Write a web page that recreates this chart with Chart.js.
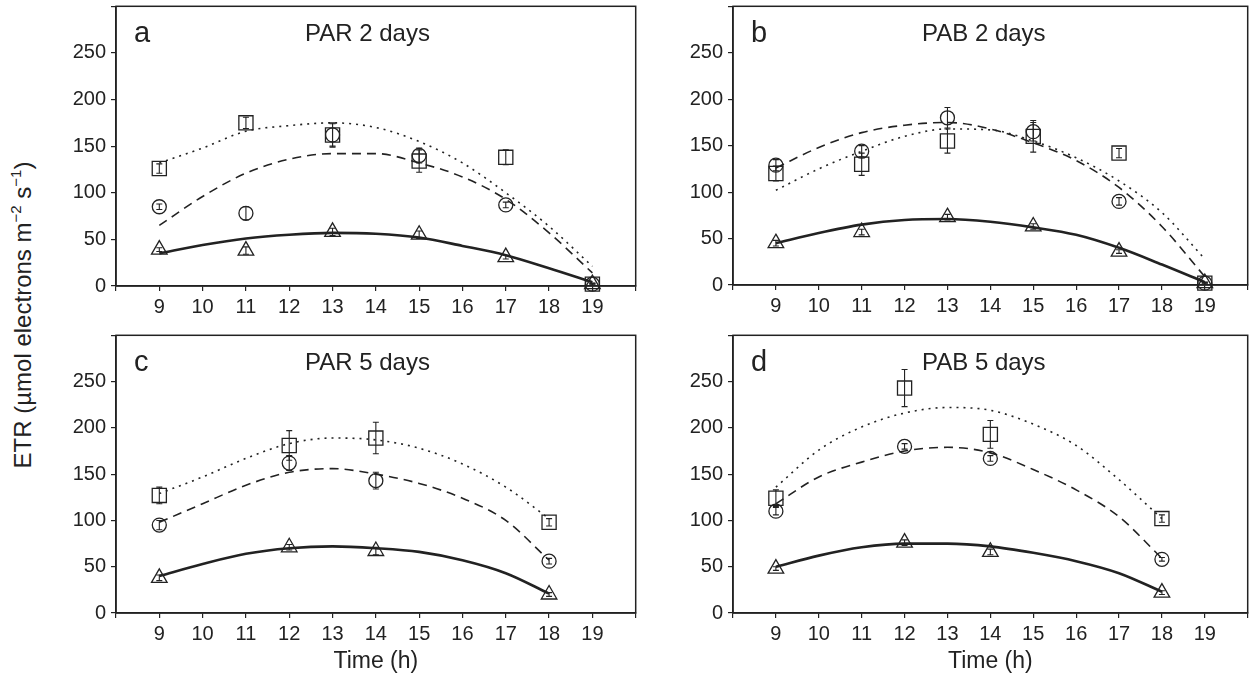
<!DOCTYPE html>
<html><head><meta charset="utf-8">
<script src="https://cdn.jsdelivr.net/npm/chart.js@4.4.1/dist/chart.umd.min.js"></script>
<style>
html,body{margin:0;padding:0;background:#fff;width:1253px;height:680px;overflow:hidden;position:relative;}
.p{position:absolute;}
#ylab{position:absolute;left:23px;top:315px;transform:translate(-50%,-50%) rotate(-90deg);font-family:"Liberation Sans",Arial,sans-serif;font-size:24px;color:#222;white-space:nowrap;}
#ylab sup{font-size:15px;vertical-align:10px;line-height:0;}
</style></head><body>
<div id="ylab">ETR (µmol electrons m<sup>−2</sup> s<sup>−1</sup>)</div>
<div class="p" style="left:50px;top:-5px;"><canvas id="ca" width="597" height="335"></canvas></div>
<div class="p" style="left:667px;top:-5px;"><canvas id="cb" width="592" height="335"></canvas></div>
<div class="p" style="left:50px;top:324px;"><canvas id="cc" width="597" height="356"></canvas></div>
<div class="p" style="left:667px;top:324px;"><canvas id="cd" width="592" height="356"></canvas></div>
<script>
// ---------- data ----------
const xTicks = [9,10,11,12,13,14,15,16,17,18,19];
const yTicks = [0,50,100,150,200,250];

// Panel a: PAR 2 days
const hoursA = [9,11,13,15,17,19];
const aSquare = [126,175,162,134,138,2];
const aSquareErr = [5,6,13,12,8,1];
const aCircle = [85,78,162,140,87,2];
const aCircleErr = [3,7,12,8,3,1];
const aTriangle = [39,38,58,55,31,2];
const aTriangleErr = [2,4,4,4,2,1];
const fitHoursA = [9,10,11,12,13,14,15,16,17,18,19];
const aFitSquare = [132,148,166,172,175,170,155,132,100,64,21];
const aFitCircle = [65,96,121,136,142,142,132,117,93,57,14];
const aFitTriangle = [35,44,51,55,57,56,52,43,33,19,4];

// Panel b: PAB 2 days
const hoursB = [9,11,13,15,17,19];
const bSquare = [120,130,155,160,142,2];
const bSquareErr = [8,12,13,17,5,1];
const bCircle = [129,144,180,165,90,2];
const bCircleErr = [6,6,11,10,4,1];
const bTriangle = [45,57,73,63,36,2];
const bTriangleErr = [3,3,3,3,2,1];
const fitHoursB = [9,10,11,12,13,14,15,16,17,18,19];
const bFitSquare = [102,125,144,160,168,167,155,137,112,78,28];
const bFitCircle = [126,148,164,172,175,168,153,134,105,63,9];
const bFitTriangle = [45,56,65,70,71,68,62,54,40,22,3];

// Panel c: PAR 5 days
const hoursC = [9,12,14,18];
const cSquare = [127,181,189,98];
const cSquareErr = [9,16,17,4];
const cCircle = [95,162,143,56];
const cCircleErr = [5,8,9,3];
const cTriangle = [38,71,67,20];
const cTriangleErr = [3,3,4,2];
const fitHoursC = [9,10,11,12,13,14,15,16,17,18];
const cFitSquare = [129,147,167,183,189,187,178,161,136,102];
const cFitCircle = [98,118,138,152,156,150,140,124,100,57];
const cFitTriangle = [40,53,64,70,72,70,66,57,43,21];

// Panel d: PAB 5 days
const hoursD = [9,12,14,18];
const dSquare = [124,243,193,102];
const dSquareErr = [9,20,15,4];
const dCircle = [110,180,167,58];
const dCircleErr = [4,3,3,2];
const dTriangle = [48,76,66,22];
const dTriangleErr = [2,3,3,2];
const fitHoursD = [9,10,11,12,13,14,15,16,17,18];
const dFitSquare = [136,176,201,216,222,219,204,181,144,102];
const dFitCircle = [118,147,163,175,179,173,155,133,104,59];
const dFitTriangle = [50,62,71,75,75,72,65,56,43,23];

// ---------- rendering ----------
const FONT = '"Liberation Sans", Arial, Helvetica, sans-serif';
const INK = '#222';

const deco = {
  id: 'deco',
  afterDatasetsDraw(chart, args, opts) {
    const ctx = chart.ctx, ys = chart.scales.y;
    ctx.save();
    ctx.strokeStyle = INK; ctx.lineWidth = 1.1;
    chart.data.datasets.forEach((ds, i) => {
      if (!ds.errors) return;
      const meta = chart.getDatasetMeta(i);
      meta.data.forEach((pt, j) => {
        const v = ds.data[j].y, e = ds.errors[j];
        const y1 = ys.getPixelForValue(v + e), y2 = ys.getPixelForValue(v - e);
        const x = pt.x;
        ctx.beginPath();
        ctx.moveTo(x, y1); ctx.lineTo(x, y2);
        ctx.moveTo(x - 3, y1); ctx.lineTo(x + 3, y1);
        ctx.moveTo(x - 3, y2); ctx.lineTo(x + 3, y2);
        ctx.stroke();
      });
    });
    ctx.restore();
  },
  afterDraw(chart, args, opts) {
    const ctx = chart.ctx, a = chart.chartArea;
    ctx.save();
    ctx.strokeStyle = INK; ctx.lineWidth = 1.5;
    ctx.strokeRect(a.left, a.top, a.right - a.left, a.bottom - a.top);
    ctx.fillStyle = INK;
    ctx.textBaseline = 'alphabetic';
    ctx.textAlign = 'left';
    ctx.font = '29px ' + FONT;
    ctx.fillText(opts.letter, a.left + 18, a.top + 36);
    ctx.font = '24px ' + FONT;
    ctx.fillText(opts.title, a.left + 189, a.top + 35);
    ctx.restore();
  }
};

function pts(xs, ys) { return xs.map((x, i) => ({x: x, y: ys[i]})); }

function markerSet(xs, ys, errs, style, r) {
  return {type: 'scatter', data: pts(xs, ys), errors: errs, showLine: false,
    pointStyle: style, pointRadius: r, pointHoverRadius: r, pointBorderWidth: 1.3,
    pointBorderColor: INK, pointBackgroundColor: 'rgba(255,255,255,0)', clip: false, order: 1};
}
function fitSet(xs, ys, dash, width) {
  return {type: 'line', data: pts(xs, ys), borderColor: INK, borderWidth: width, borderDash: dash,
    pointRadius: 0, fill: false, cubicInterpolationMode: 'monotone', clip: false, order: 2};
}

function makeChart(id, cfg) {
  const showTitle = cfg.xTitle;
  new Chart(document.getElementById(id), {
    data: {datasets: [
      fitSet(cfg.fx, cfg.fsq, [2, 5], 1.6),
      fitSet(cfg.fx, cfg.fci, [9, 6], 1.6),
      fitSet(cfg.fx, cfg.ftr, [], 2.6),
      markerSet(cfg.hx, cfg.sq, cfg.sqe, 'rect', 10),
      markerSet(cfg.hx, cfg.ci, cfg.cie, 'circle', 7),
      markerSet(cfg.hx, cfg.tr, cfg.tre, 'triangle', 9)
    ]},
    options: {
      responsive: false, animation: false, events: [],
      layout: {padding: {top: 0, right: cfg.padRight, left: 0, bottom: 0}},
      plugins: {legend: {display: false}, tooltip: {enabled: false}, deco: {letter: cfg.letter, title: cfg.title}},
      scales: {
        x: {type: 'linear', min: 8, max: 20,
          afterFit(s) { s.height = cfg.xH; s.paddingLeft = 0; s.paddingRight = 0; s.paddingTop = 0; s.paddingBottom = 0; },
          afterBuildTicks(s) { const t = []; for (let v = 8; v <= 20; v++) t.push({value: v}); s.ticks = t; },
          ticks: {autoSkip: false, maxRotation: 0, color: INK, padding: 4, font: {family: FONT, size: 20},
            callback: v => xTicks.includes(v) ? String(v) : ''},
          grid: {drawOnChartArea: false, drawTicks: true, tickLength: 5, color: INK, lineWidth: 1.2},
          border: {display: true, color: INK, width: 1.5},
          title: {display: showTitle, text: 'Time (h)', color: INK, font: {family: FONT, size: 23}, padding: {top: 0, bottom: 5}}
        },
        y: {type: 'linear', min: 0, max: 300,
          afterFit(s) { s.width = cfg.yW; s.paddingLeft = 0; s.paddingRight = 0; s.paddingTop = 0; s.paddingBottom = 0; },
          afterBuildTicks(s) { const t = []; for (let v = 0; v <= 300; v += 50) t.push({value: v}); s.ticks = t; },
          ticks: {color: INK, padding: 5, font: {family: FONT, size: 20},
            callback: v => yTicks.includes(v) ? String(v) : ''},
          grid: {drawOnChartArea: false, drawTicks: true, tickLength: 5, color: INK, lineWidth: 1.2},
          border: {display: true, color: INK, width: 1.5}
        }
      }
    },
    plugins: [deco]
  });
}

makeChart('ca', {letter: 'a', title: 'PAR 2 days', xTitle: false, padRight: 5, xH: 44, yW: 66,
  hx: hoursA, sq: aSquare, sqe: aSquareErr, ci: aCircle, cie: aCircleErr, tr: aTriangle, tre: aTriangleErr,
  fx: fitHoursA, fsq: aFitSquare, fci: aFitCircle, ftr: aFitTriangle});
makeChart('cb', {letter: 'b', title: 'PAB 2 days', xTitle: false, padRight: 1, xH: 45, yW: 66,
  hx: hoursB, sq: bSquare, sqe: bSquareErr, ci: bCircle, cie: bCircleErr, tr: bTriangle, tre: bTriangleErr,
  fx: fitHoursB, fsq: bFitSquare, fci: bFitCircle, ftr: bFitTriangle});
makeChart('cc', {letter: 'c', title: 'PAR 5 days', xTitle: true, padRight: 5, xH: 67, yW: 66,
  hx: hoursC, sq: cSquare, sqe: cSquareErr, ci: cCircle, cie: cCircleErr, tr: cTriangle, tre: cTriangleErr,
  fx: fitHoursC, fsq: cFitSquare, fci: cFitCircle, ftr: cFitTriangle});
makeChart('cd', {letter: 'd', title: 'PAB 5 days', xTitle: true, padRight: 1, xH: 67, yW: 66,
  hx: hoursD, sq: dSquare, sqe: dSquareErr, ci: dCircle, cie: dCircleErr, tr: dTriangle, tre: dTriangleErr,
  fx: fitHoursD, fsq: dFitSquare, fci: dFitCircle, ftr: dFitTriangle});
</script>
</body></html>
